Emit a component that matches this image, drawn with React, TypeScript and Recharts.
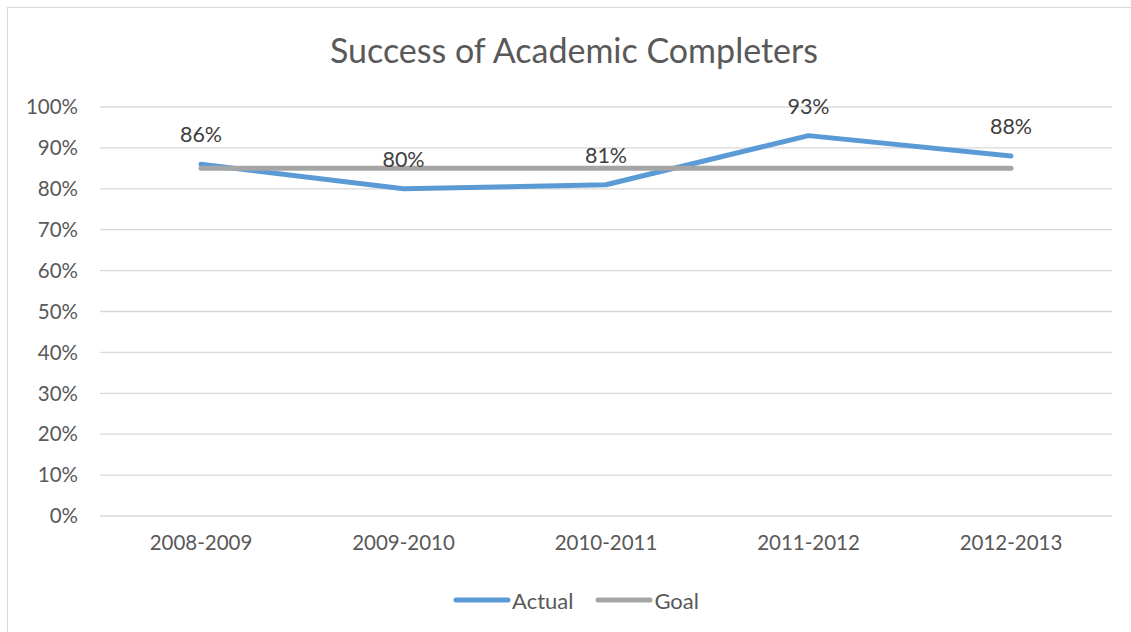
import React from "react";
import { LineChart, Line, XAxis, YAxis, CartesianGrid, Legend, LabelList } from "recharts";

const categories = ["2008-2009", "2009-2010", "2010-2011", "2011-2012", "2012-2013"];
const actualValues = [0.86, 0.8, 0.81, 0.93, 0.88];
const goalValues = [0.85, 0.85, 0.85, 0.85, 0.85];
const yTicks = [0, 0.1, 0.2, 0.3, 0.4, 0.5, 0.6, 0.7, 0.8, 0.9, 1.0];

const data = categories.map((c, i) => ({ year: c, Actual: actualValues[i], Goal: goalValues[i] }));

const FONT = "Lato, 'Open Sans', sans-serif";
const pct = (v: number) => `${Math.round(v * 100)}%`;

const LegendContent = () => (
  <div style={{ display: "flex", justifyContent: "center", alignItems: "center", height: 40, paddingLeft: 40, fontFamily: FONT, fontSize: 22, color: "#595959" }}>
    {[
      { name: "Actual", color: "#5b9bd5" },
      { name: "Goal", color: "#a5a5a5" },
    ].map((it, i) => (
      <div key={it.name} style={{ display: "flex", alignItems: "center", marginLeft: i === 0 ? 0 : 22 }}>
        <svg width={58} height={8} style={{ display: "block" }}>
          <line x1={3} y1={4} x2={55} y2={4} stroke={it.color} strokeWidth={5} strokeLinecap="round" />
        </svg>
        <span style={{ marginLeft: 1 }}>{it.name}</span>
      </div>
    ))}
  </div>
);

export default function App() {
  return (
    <div style={{ position: "absolute", left: 0, top: 0, width: 1131, height: 632, overflow: "hidden", background: "#fff" }}>
      <div style={{ position: "absolute", left: 7, top: 7, width: 1140, height: 640, border: "1px solid #d9d9d9", boxSizing: "border-box" }} />
      <div style={{ position: "absolute", left: 0, top: 29, width: 1148, textAlign: "center", fontFamily: FONT, fontSize: 34, color: "#595959" }}>
        Success of Academic Completers
      </div>
      <div style={{ position: "absolute", left: 0, top: 0 }}>
        <LineChart width={1131} height={632} data={data} margin={{ top: 107, right: 19, bottom: 12, left: 0 }}>
          <CartesianGrid horizontal vertical={false} stroke="#d9d9d9" strokeWidth={1.3} />
          <XAxis
            dataKey="year"
            axisLine={false}
            tickLine={false}
            height={64}
            tickMargin={13}
            padding={{ left: 101, right: 101 }}
            tick={{ fill: "#595959", fontSize: 20.5, fontFamily: FONT }}
          />
          <YAxis
            width={100}
            domain={[0, 1]}
            ticks={yTicks}
            tickFormatter={pct}
            axisLine={false}
            tickLine={false}
            tickMargin={16}
            tick={{ fill: "#595959", fontSize: 20.5, fontFamily: FONT }}
          />
          <Legend verticalAlign="bottom" height={40} content={<LegendContent />} />
          <Line dataKey="Actual" stroke="#5b9bd5" strokeWidth={5} dot={false} strokeLinecap="round" strokeLinejoin="round" isAnimationActive={false}>
            <LabelList dataKey="Actual" position="top" offset={22} formatter={(v: any) => pct(Number(v))} fill="#404040" fontSize={21.5} fontFamily={FONT} />
          </Line>
          <Line dataKey="Goal" stroke="#a5a5a5" strokeWidth={5} dot={false} strokeLinecap="round" isAnimationActive={false} />
        </LineChart>
      </div>
    </div>
  );
}
